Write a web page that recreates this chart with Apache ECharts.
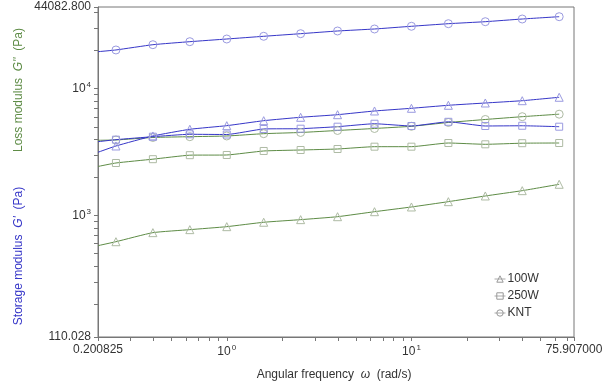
<!DOCTYPE html>
<html>
<head>
<meta charset="utf-8">
<script src="https://cdn.jsdelivr.net/npm/echarts@6/dist/echarts.min.js"></script>
<style>
  html, body { margin: 0; padding: 0; background: #fff; }
  #chart { width: 608px; height: 383px; }
</style>
</head>
<body>
<div id="chart"></div>
<script>
// angular frequency (rad/s); first entry is where the curves start on the left axis
const freq = [0.200825, 0.2512, 0.3981, 0.631, 1, 1.585, 2.512, 3.981, 6.31, 10, 15.85, 25.12, 39.81, 63.1];

// storage modulus G' (Pa)
const knt_G1 = [19580, 20200, 22230, 23480, 24650, 25900, 27150, 28510, 29570, 31060, 32550, 33760, 35450, 36970];
const w100_G1 = [3151, 3533, 4236, 4784, 5108, 5593, 5949, 6236, 6670, 7004, 7397, 7712, 8040, 8555];
const w250_G1 = [3819, 3962, 4182, 4369, 4350, 4811, 4836, 5015, 5290, 5079, 5480, 5079, 5100, 5015];

// loss modulus G'' (Pa)
const knt_G2 = [3918, 3940, 4122, 4182, 4236, 4417, 4514, 4681, 4854, 5050, 5413, 5716, 6015, 6294];
const w250_G2 = [2435, 2594, 2780, 2989, 3000, 3226, 3284, 3345, 3488, 3488, 3729, 3642, 3716, 3729];
const w100_G2 = [578, 621, 732, 773, 816, 884, 927, 978, 1071, 1167, 1285, 1425, 1569, 1762];

const xMin = 0.200825, xMax = 75.907;
const yMin = 110.028, yMax = 44082.8;
const xLabels = [xMin, 1, 10, xMax];
const yLabels = [yMin, 1000, 10000, yMax];

const legendNames = ['100W', '250W', 'KNT'];
const symbols = { '100W': 'triangle', '250W': 'rect', 'KNT': 'circle' };
const symSize = { '100W': 8, '250W': 7, 'KNT': 8 };

const BLUE = '#3636c8', BLUE_M = '#9a9ae0';
const GREEN = '#5e8c46', GREEN_M = '#aebba4';
const FONT = 'Liberation Sans';
const CLEAR = 'rgba(255,255,255,0)';

function minorTicks(lo, hi) {
  const out = [];
  for (let e = -1; e <= 4; e++) {
    for (let k = 1; k <= 9; k++) {
      const v = k * Math.pow(10, e);
      if (v > lo && v < hi) out.push(v);
    }
  }
  return out;
}

function pow10Label(v) {
  const e = Math.round(Math.log10(v));
  if (Math.abs(Math.pow(10, e) - v) < 1e-9 * v) return '{b|10}{s|' + e + '}';
  return null;
}

function makeSeries(name, vals, line, mark) {
  return {
    name: name,
    type: 'line',
    data: vals.map((v, i) => i === 0 ? { value: [freq[i], v], symbol: 'none' } : [freq[i], v]),
    symbol: symbols[name],
    symbolSize: symSize[name],
    showAllSymbol: true,
    smooth: 0.15,
    lineStyle: { color: line, width: 1 },
    itemStyle: { color: CLEAR, borderColor: mark, borderWidth: 1 },
    emphasis: { disabled: true },
    z: 3
  };
}

const richLab = {
  b: { fontSize: 12, fontFamily: FONT, color: '#333' },
  s: { fontSize: 8, fontFamily: FONT, color: '#333', padding: [0, 0, 7, 1] }
};

const chart = echarts.init(document.getElementById('chart'), null, { renderer: 'canvas' });
chart.setOption({
  animation: false,
  backgroundColor: '#fff',
  grid: { left: 98, right: 34, top: 7, bottom: 46, show: true, borderColor: '#777', borderWidth: 1 },
  xAxis: {
    type: 'log', logBase: 10, min: xMin, max: xMax,
    axisLine: { show: true, lineStyle: { color: '#777' } },
    axisTick: { show: true, customValues: minorTicks(xMin, xMax).concat([xMin, xMax]), length: 4, lineStyle: { color: '#777' } },
    splitLine: { show: false },
    axisLabel: {
      customValues: xLabels,
      margin: 7,
      fontFamily: FONT, fontSize: 12, color: '#333',
      formatter: v => {
        const p = pow10Label(v);
        if (p) return p;
        return Math.abs(v - xMin) < 1e-6 ? '0.200825' : '75.907000';
      },
      rich: richLab
    }
  },
  yAxis: {
    type: 'log', logBase: 10, min: yMin, max: yMax,
    axisLine: { show: true, lineStyle: { color: '#777' } },
    axisTick: { show: true, customValues: minorTicks(yMin, yMax).concat([yMin, yMax]), length: 4, lineStyle: { color: '#777' } },
    splitLine: { show: false },
    axisLabel: {
      customValues: yLabels,
      margin: 7,
      fontFamily: FONT, fontSize: 12, color: '#333',
      formatter: v => {
        const p = pow10Label(v);
        if (p) return p;
        return v.toFixed(3);
      },
      rich: richLab
    }
  },
  legend: {
    data: legendNames.map(n => ({
      name: n,
      itemStyle: { color: CLEAR, borderColor: '#999', borderWidth: 1 },
      lineStyle: { color: '#aaa', width: 1 }
    })),
    orient: 'vertical',
    left: 489, top: 268,
    itemWidth: 11, itemHeight: 8, itemGap: 5,
    textStyle: { fontFamily: FONT, fontSize: 12, color: '#333', padding: [0, 0, 0, -3] },
    selectedMode: false
  },
  graphic: [
    {
      type: 'text', x: 19, y: 90, rotation: Math.PI / 2,
      style: {
        text: "Loss modulus  {i|G''}  (Pa)",
        fill: GREEN, font: '12px ' + FONT, align: 'center', verticalAlign: 'middle',
        rich: { i: { fontStyle: 'italic', fill: GREEN, fontSize: 12, fontFamily: FONT } }
      }
    },
    {
      type: 'text', x: 19, y: 256, rotation: Math.PI / 2,
      style: {
        text: "Storage modulus  {i|G'}  (Pa)",
        fill: BLUE, font: '12px ' + FONT, align: 'center', verticalAlign: 'middle',
        rich: { i: { fontStyle: 'italic', fill: BLUE, fontSize: 12, fontFamily: FONT } }
      }
    },
    {
      type: 'text', x: 334, y: 375,
      style: {
        text: 'Angular frequency  {i|ω}  (rad/s)',
        fill: '#333', font: '12px ' + FONT, align: 'center', verticalAlign: 'middle',
        rich: { i: { fontStyle: 'italic', fill: '#333', fontSize: 12, fontFamily: FONT } }
      }
    }
  ],
  series: [
    makeSeries('100W', w100_G2, GREEN, GREEN_M),
    makeSeries('250W', w250_G2, GREEN, GREEN_M),
    makeSeries('KNT', knt_G2, GREEN, GREEN_M),
    makeSeries('100W', w100_G1, BLUE, BLUE_M),
    makeSeries('250W', w250_G1, BLUE, BLUE_M),
    makeSeries('KNT', knt_G1, BLUE, BLUE_M)
  ]
});
</script>
</body>
</html>
